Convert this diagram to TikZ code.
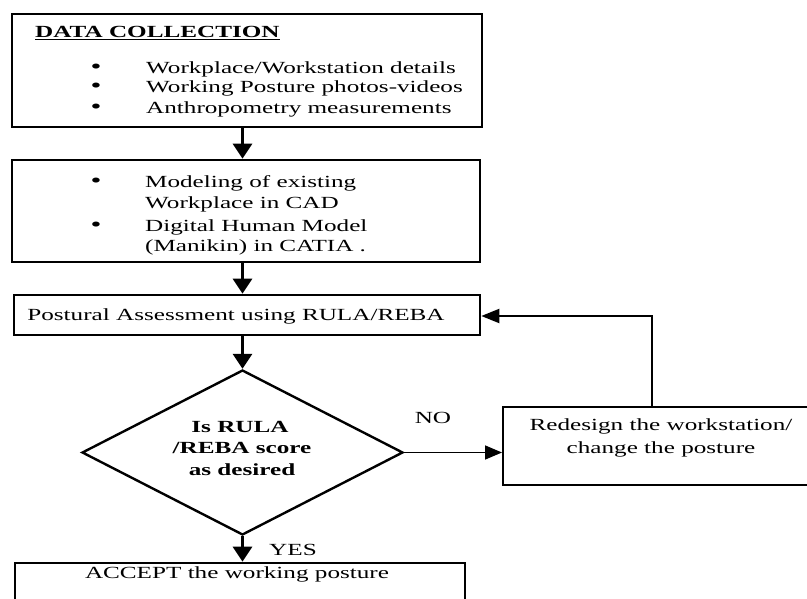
\documentclass[tikz,border=0pt]{standalone}
\usepackage{fontspec}
\setmainfont{Liberation Serif}[FakeStretch=1.48]
\usetikzlibrary{arrows.meta,shapes.geometric}
\begin{document}
\begin{tikzpicture}[x=1pt,y=-1pt,
  box/.style={draw,line width=2.6pt,rectangle,inner sep=0pt},
  thinbox/.style={draw,line width=2pt,rectangle,inner sep=0pt},
  ltxt/.style={inner sep=0pt,anchor=base west,font=\fontsize{17}{18}\selectfont},
  ctxt/.style={inner sep=0pt,anchor=base,font=\fontsize{17}{18}\selectfont},
  btxt/.style={inner sep=0pt,anchor=base,font=\fontsize{17}{18}\selectfont\bfseries},
  bul/.style={inner sep=0pt,anchor=base,text height=11pt,text depth=0pt,font=\fontsize{21}{21}\selectfont},
  varr/.style={line width=3pt,-{Triangle[length=15pt,width=19pt]}},
  harr/.style={line width=1.6pt,-{Triangle[length=17pt,width=14pt]}},
  farr/.style={line width=2pt,-{Triangle[length=18pt,width=14pt]}}]
\useasboundingbox (0,0) rectangle (807,599);
\clip (0,0) rectangle (807,599);
% boxes
\node[box,minimum width=470pt,minimum height=113pt] (b1) at (247,70.5) {};
\node[box,minimum width=468pt,minimum height=102pt] (b2) at (246,211) {};
\node[box,minimum width=466pt,minimum height=40pt] (b3) at (247,315) {};
\node[diamond,draw,line width=2.4pt,inner sep=0pt,minimum width=321pt,minimum height=165pt] (dia) at (242.5,452.5) {};
\node[thinbox,minimum width=307pt,minimum height=78pt] (rd) at (656.5,446) {};
\node[box,minimum width=450pt,minimum height=47pt] (acc) at (240,586.5) {};
% texts box1
\node[ltxt] (t1h) at (35,38) {\bfseries\underline{DATA COLLECTION}};
\node[bul] (t1b1) at (96,73.5) {\textbullet};
\node[ltxt] (t1a) at (146,73.5) {Workplace/Workstation details};
\node[bul] (t1b2) at (96,93) {\textbullet};
\node[ltxt] (t1c) at (146,93) {Working Posture photos-videos};
\node[bul] (t1b3) at (96,114) {\textbullet};
\node[ltxt] (t1d) at (146,114) {Anthropometry measurements};
% texts box2
\node[bul] (t2b1) at (96,188) {\textbullet};
\node[ltxt] (t2a) at (145,188) {Modeling of existing};
\node[ltxt] (t2c) at (145,208.5) {Workplace in CAD};
\node[bul] (t2b2) at (96,231.5) {\textbullet};
\node[ltxt] (t2d) at (145,231.5) {Digital Human Model};
\node[ltxt] (t2e) at (145,251.5) {(Manikin) in CATIA .};
% box3
\node[ctxt] (t3) at (236,320.5) {Postural Assessment using RULA/REBA};
% diamond
\node[btxt] (d1) at (240,432) {Is RULA};
\node[btxt] (d2) at (242,453.5) {/REBA score};
\node[btxt] (d3) at (242,475.5) {as desired};
% labels
\node[ctxt] (no) at (433,423.5) {NO};
\node[ctxt] (yes) at (293,555.5) {YES};
% redesign
\node[ctxt] (r1) at (661,430.5) {Redesign the workstation/};
\node[ctxt] (r2) at (661,453.5) {change the posture};
% accept
\node[ctxt] (a1) at (237,578.5) {ACCEPT the working posture};
% connectors
\draw[varr] (b1.south -| dia.north) -- (b2.north -| dia.north);
\draw[varr] (b2.south -| dia.north) -- (b3.north -| dia.north);
\draw[varr] (b3.south -| dia.north) -- (dia.north);
\draw[varr] (dia.south) -- (dia.south |- acc.north);
\draw[harr] (dia.east) -- (dia.east -| rd.west);
\coordinate (fb) at (652,316);
\draw[farr] (rd.north -| fb) -- (fb) -- (fb -| b3.east);
\end{tikzpicture}
\end{document}
